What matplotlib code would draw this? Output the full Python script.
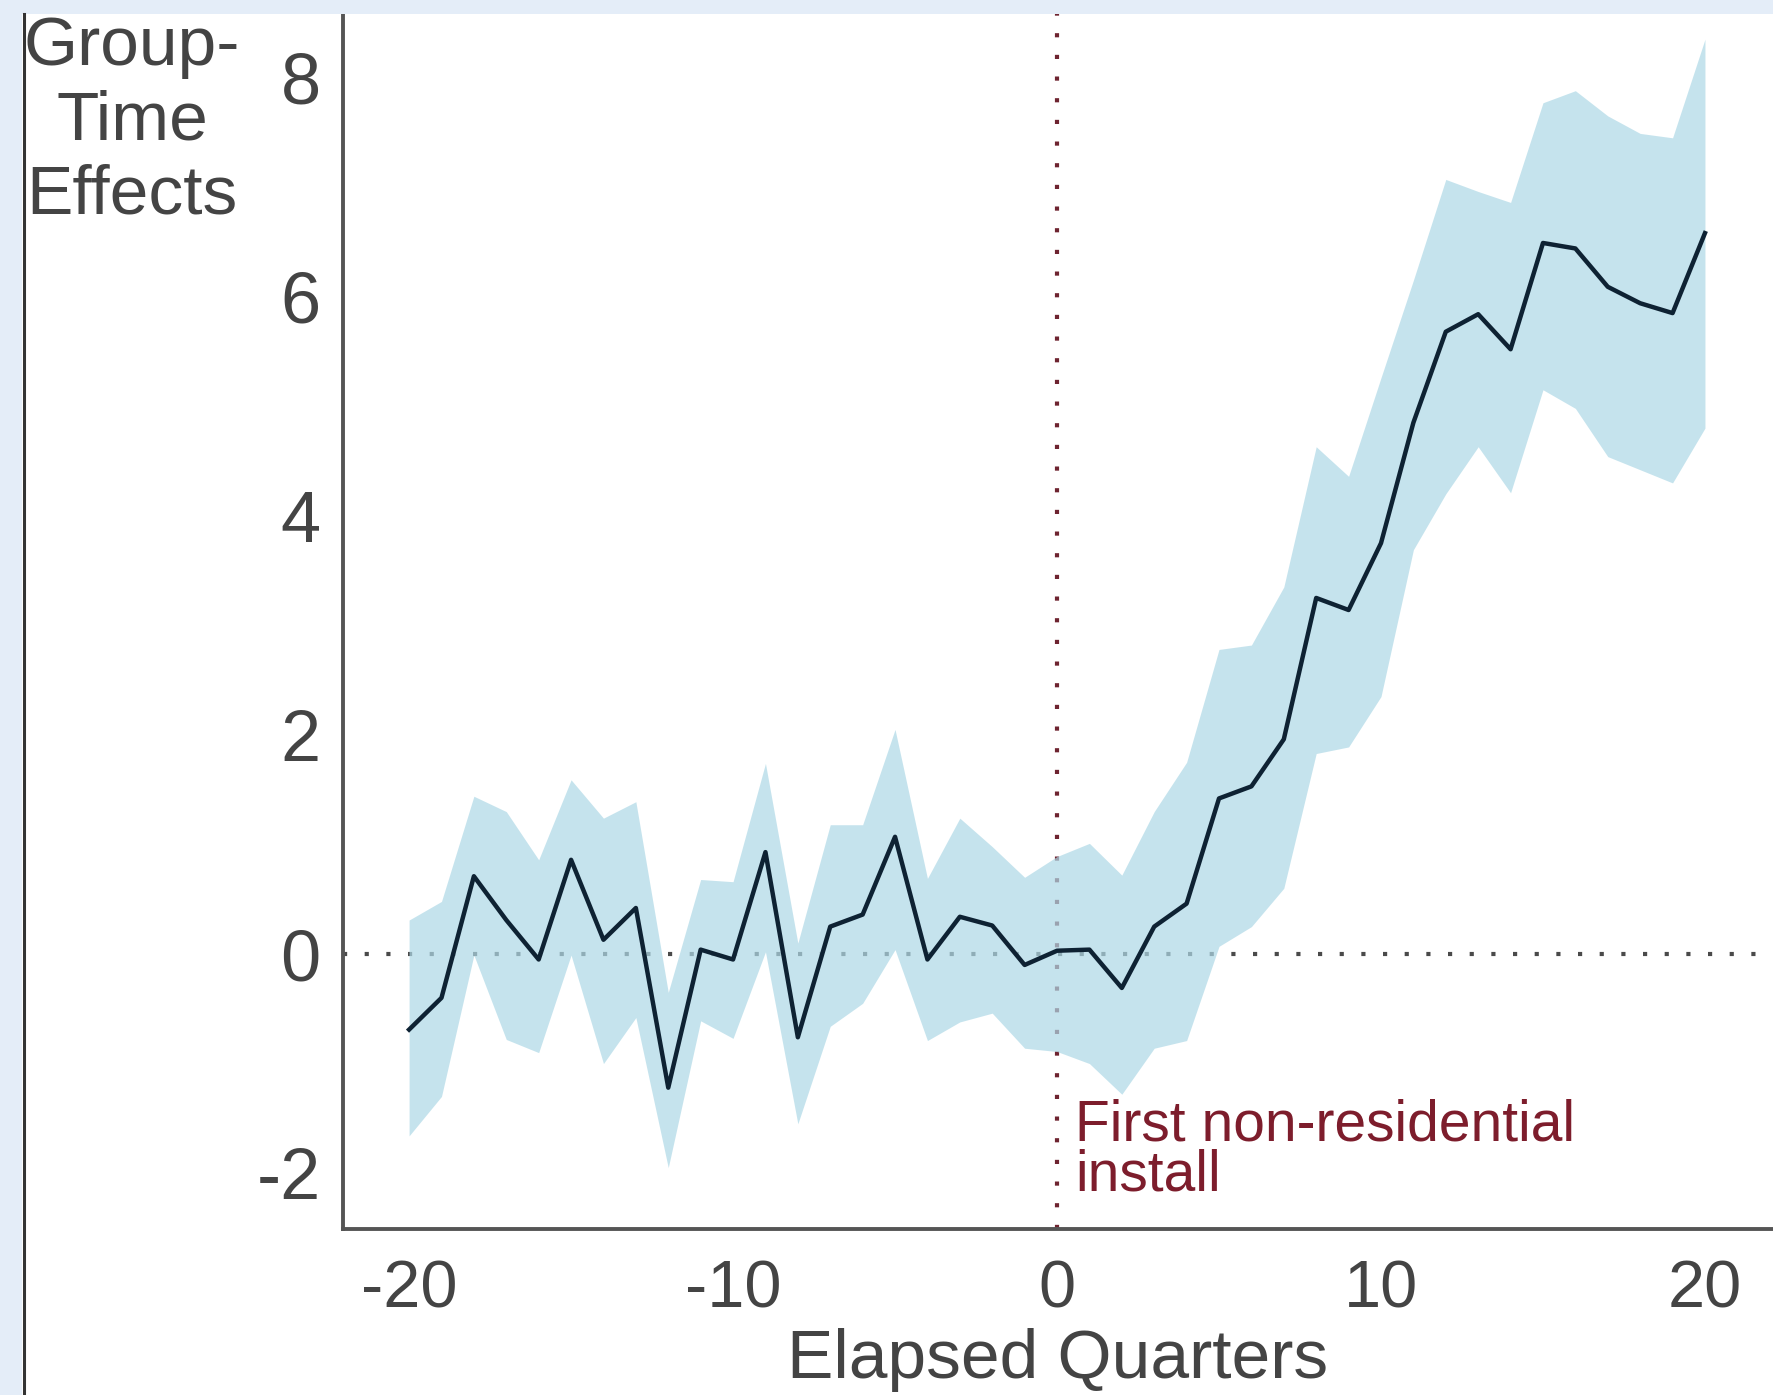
import matplotlib
matplotlib.use("Agg")
import matplotlib.pyplot as plt
from matplotlib.patches import Rectangle
from matplotlib.lines import Line2D

plt.rcParams['font.family'] = ['Liberation Sans', 'DejaVu Sans']
plt.rcParams['axes.unicode_minus'] = False

# region DATA
quarters = list(range(-20, 21))
effect = [-0.69, -0.40, 0.71, 0.31, -0.05, 0.86, 0.13, 0.42, -1.22, 0.04,
          -0.05, 0.93, -0.76, 0.25, 0.36, 1.07, -0.05, 0.34, 0.26, -0.10,
          0.03, 0.04, -0.31, 0.25, 0.46, 1.42, 1.53, 1.96, 3.25, 3.14,
          3.75, 4.85, 5.68, 5.84, 5.52, 6.49, 6.44, 6.09, 5.94, 5.85, 6.58]
ci_low = [-1.66, -1.30, -0.01, -0.78, -0.90, -0.01, -1.00, -0.58, -1.95, -0.61,
          -0.77, 0.02, -1.55, -0.66, -0.45, 0.04, -0.79, -0.62, -0.54, -0.86,
          -0.89, -1.00, -1.28, -0.86, -0.79, 0.07, 0.25, 0.60, 1.83, 1.89,
          2.35, 3.69, 4.20, 4.63, 4.21, 5.15, 4.98, 4.54, 4.42, 4.30, 4.80]
ci_high = [0.31, 0.48, 1.44, 1.30, 0.86, 1.59, 1.24, 1.39, -0.35, 0.68,
           0.66, 1.74, 0.10, 1.18, 1.18, 2.05, 0.69, 1.24, 0.98, 0.70,
           0.89, 1.01, 0.72, 1.30, 1.75, 2.78, 2.82, 3.35, 4.63, 4.36,
           5.26, 6.15, 7.07, 6.96, 6.86, 7.77, 7.88, 7.65, 7.49, 7.45, 8.35]
xticks = [-20, -10, 0, 10, 20]
yticks = [-2, 0, 2, 4, 6, 8]
# endregion

W, H = 1773, 1395
fig = plt.figure(figsize=(W / 100, H / 100), dpi=100, facecolor='white')

# page frame around the embedded picture (drawn on top, it clips the label)
page = '#e4edf8'
fig.add_artist(Rectangle((0, 1 - 14 / H), 1, 14 / H, transform=fig.transFigure,
                         facecolor=page, edgecolor='none', zorder=10))
fig.add_artist(Rectangle((0, 0), 22 / W, 1, transform=fig.transFigure,
                         facecolor=page, edgecolor='none', zorder=10))
fig.add_artist(Line2D([23.5 / W, 23.5 / W], [0, 1 - 14 / H], transform=fig.transFigure,
                      color='#333333', lw=2.2, zorder=10))

ax = fig.add_axes([343 / W, 1 - 1229 / H, (W - 343) / W, (1229 - 14) / H])
ax.set_xlim(-22.04, 22.1)
ax.set_ylim(-2.51, 8.58)

ax.axhline(0, color='#4a4a4a', lw=3, ls=(0, (1, 4.2)), zorder=1)
ax.axvline(0, color='#6e2430', lw=3, ls=(0, (1, 4.2)), zorder=1)

ax.fill_between(quarters, ci_low, ci_high, color='#add8e6', alpha=0.7,
                lw=0, zorder=2)
ax.plot(quarters, effect, color='#0e2233', lw=3.2, zorder=3)

ax.text(0.55, -2.155, 'First non-residential\ninstall', color='#7d1d2c',
        fontsize=41, va='baseline', ha='left', linespacing=0.9, zorder=4)

for s in ['top', 'right']:
    ax.spines[s].set_visible(False)
for s in ['left', 'bottom']:
    ax.spines[s].set_color('#555555')
    ax.spines[s].set_linewidth(2.8)

ax.set_xticks(xticks)
ax.set_yticks(yticks)
ax.tick_params(axis='both', length=0, labelcolor='#444444')
ax.tick_params(axis='y', pad=16, labelsize=52)
ax.tick_params(axis='x', pad=22, labelsize=48)
ax.set_xlabel('Elapsed Quarters', fontsize=50, color='#444444', labelpad=5)

fig.text(132 / W, 1 - 213 / H, 'Group-\nTime\nEffects', fontsize=50,
         color='#444444', ha='center', va='baseline', multialignment='center',
         linespacing=1.2)

fig.savefig('out.png', dpi=100, facecolor='white')
